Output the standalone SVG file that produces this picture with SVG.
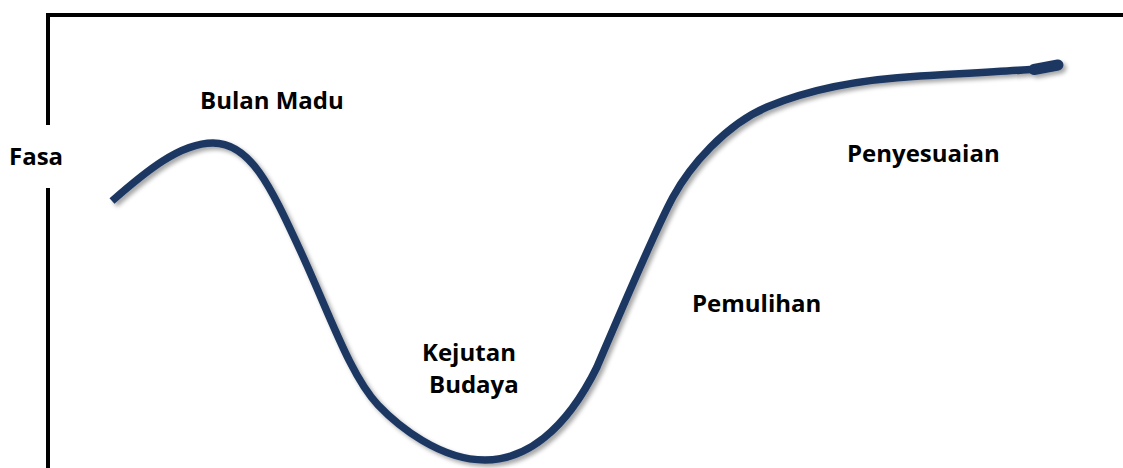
<svg xmlns="http://www.w3.org/2000/svg" width="1123" height="468" viewBox="0 0 1123 468">
  <style>
    .axis { stroke: #000; stroke-width: 4; fill: none; }
    .curve { stroke: #1c3962; stroke-width: 7.5; fill: none; stroke-linecap: butt; stroke-linejoin: round; }
    .lbl { font-family: "Open Sans", "Liberation Sans", sans-serif; font-weight: bold; font-size: 24px; fill: #000; }
  </style>
  <defs>
    <filter id="shadow" x="-10%" y="-10%" width="120%" height="130%">
      <feDropShadow dx="3" dy="3" stdDeviation="2" flood-color="#000" flood-opacity="0.35"/>
    </filter>
  </defs>
  <rect width="1123" height="468" fill="#fff"/>
  <g id="axes">
    <path class="axis" d="M48,125 V15 H1123"/>
    <path class="axis" d="M48,188 V468"/>
  </g>
  <g id="connectors" filter="url(#shadow)">
    <path class="curve" d="M112,201 C145,172 180,143 213,143 C250,143 270,185 300,250 C330,315 350,375 378,405 C398,426 440,460 485,460 C525,460 565,432 597,367 C609,339 655,230 673,197 C690,166 725,125 767,107 C800,93 850,80 920,76 C990,72 1030,70 1036,69"/>
    <path d="M1034,69.5 L1058,65" stroke="#1c3962" stroke-width="11" stroke-linecap="round" fill="none"/>
  </g>
  <g id="label-fasa"><text class="lbl" x="9" y="165">Fasa</text></g>
  <g id="label-bulan-madu"><text class="lbl" x="200" y="109">Bulan Madu</text></g>
  <g id="label-kejutan-budaya">
    <text class="lbl" x="422" y="361">Kejutan</text>
    <text class="lbl" x="429" y="393">Budaya</text>
  </g>
  <g id="label-pemulihan"><text class="lbl" x="692" y="312">Pemulihan</text></g>
  <g id="label-penyesuaian"><text class="lbl" x="847" y="162">Penyesuaian</text></g>
</svg>
